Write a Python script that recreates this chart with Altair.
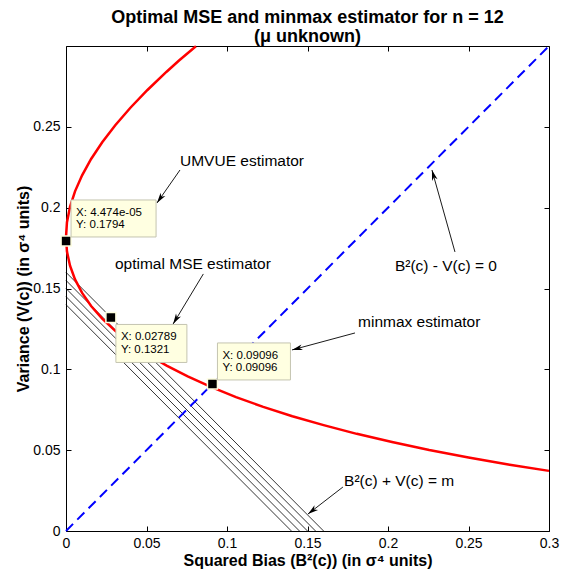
import math
import altair as alt
import pandas as pd

# ---------------- data ----------------
curve_b2 = [0.0807, 0.0702, 0.0625, 0.0506, 0.04, 0.0306, 0.0225, 0.0156, 0.01, 0.0056,
            0.0025, 0.0006, 0.0, 0.0006, 0.0025, 0.0056, 0.01, 0.0156, 0.0225, 0.0306,
            0.04, 0.0506, 0.0625, 0.0756, 0.09, 0.1056, 0.1225, 0.1406, 0.16, 0.1806,
            0.2025, 0.2256, 0.25, 0.2756, 0.3]
curve_v = [0.2998, 0.2910, 0.2841, 0.2728, 0.2618, 0.2510, 0.2405, 0.2301, 0.22, 0.2101,
           0.2005, 0.1910, 0.1818, 0.1728, 0.1641, 0.1556, 0.1473, 0.1392, 0.1314, 0.1238,
           0.1164, 0.1092, 0.1023, 0.0956, 0.0891, 0.0828, 0.0768, 0.0710, 0.0655, 0.0601,
           0.055, 0.0501, 0.0455, 0.0410, 0.0372]
level_m = [0.14, 0.145, 0.15, 0.155, 0.16]
diag_b2 = [0.0, 0.3]
diag_v = [0.0, 0.3]

tip_names = ["UMVUE", "optimal", "minmax"]
tip_x = [4.474e-05, 0.02789, 0.09096]
tip_y = [0.1794, 0.1321, 0.09096]
tip_labels = ["X: 4.474e-05\nY: 0.1794", "X: 0.02789\nY: 0.1321", "X: 0.09096\nY: 0.09096"]

note_text = ["UMVUE estimator", "optimal MSE estimator", "minmax estimator",
             "B²(c) - V(c) = 0", "B²(c) + V(c) = m"]
note_x = [0.0708, 0.0304, 0.1814, 0.2043, 0.1727]
note_y = [0.229, 0.165, 0.1293, 0.1639, 0.031]
arrow_x0 = [0.0708, 0.0853, 0.1795, 0.2416, 0.1720]
arrow_y0 = [0.2233, 0.1590, 0.1225, 0.1726, 0.0272]
arrow_x1 = [0.0565, 0.0665, 0.1404, 0.2273, 0.1503]
arrow_y1 = [0.2029, 0.1280, 0.1120, 0.2233, 0.0105]

x_ticks = [0, 0.05, 0.1, 0.15, 0.2, 0.25, 0.3]
y_ticks = [0, 0.05, 0.1, 0.15, 0.2, 0.25]

title_line = "Optimal MSE and minmax estimator for n = 12"
subtitle_line = "(μ unknown)"

# ---------------- layout ----------------
W, H = 483, 485
FONT = "Liberation Sans"
xs = alt.Scale(domain=[0, 0.3], nice=False, zero=False)
ys = alt.Scale(domain=[0, 0.3], nice=False, zero=False)

curve_df = pd.DataFrame({"b2": curve_b2, "v": curve_v, "i": list(range(len(curve_b2)))})
lines_df = pd.DataFrame({"x0": [0.0] * len(level_m), "y0": level_m, "x1": level_m, "y1": [0.0] * len(level_m)})
diag_df = pd.DataFrame({"b2": diag_b2, "v": diag_v})
tips_df = pd.DataFrame({"name": tip_names, "x": tip_x, "y": tip_y, "label": tip_labels})
notes_df = pd.DataFrame({"t": note_text, "x": note_x, "y": note_y})

sx, sy = W / 0.3, H / 0.3
angles = []
for a, b, c, d in zip(arrow_x0, arrow_y0, arrow_x1, arrow_y1):
    dxp = (c - a) * sx
    dyp = -(d - b) * sy
    angles.append(math.degrees(math.atan2(dxp, -dyp)) % 360)
arrows_df = pd.DataFrame({"x0": arrow_x0, "y0": arrow_y0, "x1": arrow_x1, "y1": arrow_y1, "ang": angles})


def X(f, axis=None):
    return alt.X(f, type="quantitative", scale=xs, axis=axis)


def Y(f, axis=None):
    return alt.Y(f, type="quantitative", scale=ys, axis=axis)


x_main = alt.Axis(orient="bottom", values=x_ticks, format="~g", ticks=False, domain=False, grid=False,
                  labelFont=FONT, labelFontSize=14, labelPadding=5, labelColor="black", labelFlush=False,
                  title="Squared Bias (B²(c)) (in σ⁴ units)", titleFont=FONT, titleFontSize=16,
                  titleFontWeight="bold", titleColor="black", titleX=W / 2, titleY=29,
                  titleBaseline="middle", titleAlign="center")
y_main = alt.Axis(orient="left", values=y_ticks, format="~g", ticks=False, domain=False, grid=False,
                  labelFont=FONT, labelFontSize=14, labelPadding=6, labelColor="black", labelFlush=False,
                  title="Variance (V(c)) (in σ⁴ units)", titleFont=FONT, titleFontSize=16,
                  titleFontWeight="bold", titleColor="black", titleX=-43, titleY=H / 2,
                  titleBaseline="middle", titleAlign="center", titleAngle=270)


def tick_axis(orient, values, offset):
    return alt.Axis(orient=orient, offset=offset, values=values, labels=False, domain=False, grid=False,
                    ticks=True, tickSize=5, tickColor="black", tickWidth=1, title=None)


# level lines B^2 + V = m (carry inward ticks at bottom and left)
levels = alt.Chart(lines_df).mark_rule(color="black", strokeWidth=0.8).encode(
    x=X("x0", tick_axis("top", x_ticks, -H)), y=Y("y0", tick_axis("right", y_ticks, -W)),
    x2="x1", y2="y1")

# dashed blue diagonal (carries inward ticks at top and right)
diag = alt.Chart(diag_df).mark_line(color="#0000FF", strokeWidth=2, strokeDash=[10, 6]).encode(
    x=X("b2", tick_axis("bottom", x_ticks, -H)), y=Y("v", tick_axis("left", y_ticks, -W)))

curve = alt.Chart(curve_df).mark_line(color="#FF0000", strokeWidth=2.5).encode(
    x=X("b2", x_main), y=Y("v", y_main), order="i:Q")

shafts = alt.Chart(arrows_df).mark_rule(color="black", strokeWidth=0.9).encode(
    x=X("x0"), y=Y("y0"), x2="x1", y2="y1")
heads = alt.Chart(arrows_df).mark_point(
    shape="M0,0 L0.55,2 L0,1.45 L-0.55,2 Z", filled=True, color="black", opacity=1, size=110
).encode(x=X("x1"), y=Y("y1"), angle=alt.Angle("ang:Q", scale=None))

notes = alt.Chart(notes_df).mark_text(align="left", baseline="middle", font=FONT, fontSize=15.5,
                                      color="black").encode(x=X("x"), y=Y("y"), text="t:N")

markers = alt.Chart(tips_df).mark_square(size=100, color="black", filled=True, opacity=1,
                                         stroke="#FFFFE1", strokeWidth=1.5).encode(x=X("x"), y=Y("y"))

box_style = {"UMVUE": (5, -41, 85, 37), "optimal": (5, 7, 71, 38), "minmax": (5, -41, 73, 37)}
box_layers = []
for name in tip_names:
    dx, dy, w, h = box_style[name]
    base = alt.Chart(tips_df).transform_filter(alt.datum.name == name)
    box_layers.append(base.mark_rect(fill="#FFFFE1", stroke="#c4c4b0", strokeWidth=1,
                                     xOffset=dx, x2Offset=dx + w, yOffset=dy, y2Offset=dy + h)
                      .encode(x=X("x"), x2="x", y=Y("y"), y2="y"))
    box_layers.append(base.mark_text(align="left", baseline="alphabetic", dx=dx + 5, dy=dy + 16,
                                     lineBreak="\n", lineHeight=12.5, font=FONT, fontSize=11.5,
                                     color="black")
                      .encode(x=X("x"), y=Y("y"), text="label:N"))

chart = alt.layer(levels, diag, curve, shafts, heads, notes, markers, *box_layers).resolve_axis(
    x="independent", y="independent"
).properties(
    width=W, height=H,
    autosize=alt.AutoSizeParams(type="none"),
    padding={"left": 66, "top": 46, "right": 29, "bottom": 50},
    title=alt.TitleParams(text=title_line, subtitle=subtitle_line,
                          font=FONT, fontSize=18, fontWeight="bold", color="black",
                          subtitleFont=FONT, subtitleFontSize=18, subtitleFontWeight="bold",
                          subtitleColor="black", subtitlePadding=1,
                          anchor="middle", frame="group", offset=-5),
).configure_view(stroke="black", strokeWidth=1)

chart.save("out.html", embed_options={"renderer": "svg", "actions": False})
